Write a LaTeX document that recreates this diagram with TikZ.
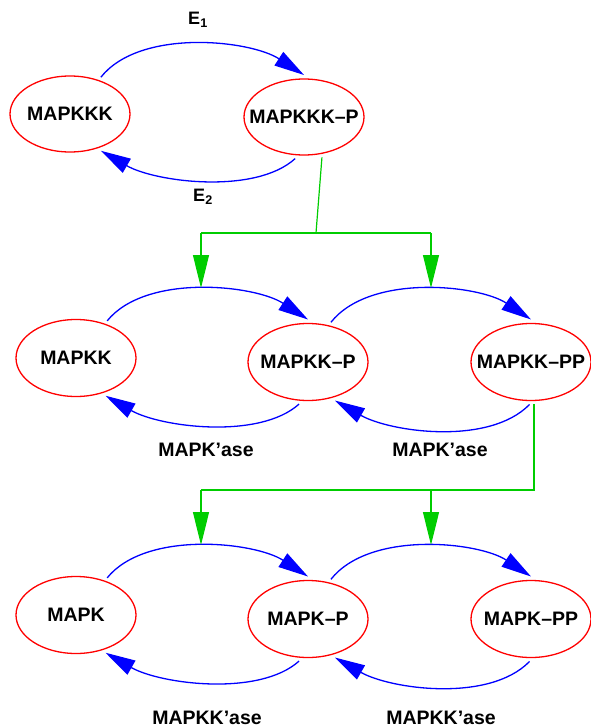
\documentclass[tikz,border=0pt]{standalone}
\usepackage{fontspec}
\setmainfont{Liberation Sans}
\usetikzlibrary{arrows.meta,shapes.geometric}
\definecolor{actgreen}{RGB}{0,205,0}
\begin{document}
\begin{tikzpicture}[x=1pt,y=-1pt,
  state/.style={ellipse,draw=red,line width=1.3pt,minimum width=120pt,minimum height=77pt,
    inner sep=0pt,outer sep=4pt,font=\fontsize{19.5}{20}\selectfont\bfseries},
  react/.style={draw=blue,line width=1.3pt,-{Triangle[length=30pt,width=16pt]}},
  act/.style={draw=actgreen,line width=1.2pt},
  actarrow/.style={act,-{Triangle[length=33pt,width=16pt]}},
  lbl/.style={font=\fontsize{19.5}{20}\selectfont\bfseries,inner sep=0pt}]
\useasboundingbox (0,0) rectangle (590,728);

% top row
\node[state,minimum height=76pt] (a) at (70,114) {\makebox[0pt]{MAPKKK}};
\node[state,minimum height=76pt] (b) at (304,117) {\makebox[0pt]{MAPKKK–P}};
\draw[react] (a.50) .. controls (140,28) and (250,40) .. (b.90);
\draw[react] (b.-102) .. controls (255,195) and (155,182) .. (a.-50);
\node[lbl,font=\fontsize{18}{20}\selectfont\bfseries] (e1) at (198,20) {E\textsubscript{1}};
\node[lbl,font=\fontsize{18}{20}\selectfont\bfseries] (e2) at (203,197) {E\textsubscript{2}};

% middle row
\node[state] (c) at (76,358) {\makebox[0pt]{MAPKK}};
\node[state] (d) at (308,362) {\makebox[0pt]{MAPKK–P}};
\node[state] (e) at (531,362) {\makebox[0pt]{MAPKK–PP}};
\draw[react] (c.50) .. controls (146,273) and (255,285) .. (d.90);
\draw[react] (d.60) .. controls (370,273) and (479,285) .. (e.90);
\draw[react] (d.-102) .. controls (259,440) and (160,427) .. (c.-52);
\draw[react] (e.-92) .. controls (489,446) and (390,432) .. (d.-55);
\node[lbl] (k1) at (206,450) {MAPK’ase};
\node[lbl] (k2) at (440,450) {MAPK’ase};

% bottom row
\node[state] (f) at (76,615) {\makebox[0pt]{MAPK}};
\node[state] (g) at (308,619) {\makebox[0pt]{MAPK–P}};
\node[state] (h) at (531,619) {\makebox[0pt]{MAPK–PP}};
\draw[react] (f.50) .. controls (146,530) and (255,542) .. (g.90);
\draw[react] (g.60) .. controls (370,530) and (479,542) .. (h.90);
\draw[react] (g.-102) .. controls (259,697) and (160,684) .. (f.-52);
\draw[react] (h.-92) .. controls (489,703) and (390,689) .. (g.-55);
\node[lbl] (m1) at (207,718) {MAPKK’ase};
\node[lbl] (m2) at (441,718) {MAPKK’ase};

% green activation lines
\coordinate (j1) at (316,233);
\coordinate (l1) at (201,233);
\coordinate (r1) at (431,233);
\coordinate (t1) at (201,288);
\coordinate (u1) at (431,288);
\draw[act] (b.-66) -- (j1);
\draw[act] (l1) -- (r1);
\draw[actarrow] (l1) -- (t1);
\draw[actarrow] (r1) -- (u1);

\coordinate (l2) at (201,490);
\coordinate (r2) at (431,490);
\coordinate (t2) at (201,545);
\coordinate (u2) at (431,545);
\draw[act] (e.-86) |- (l2);
\draw[actarrow] (l2) -- (t2);
\draw[actarrow] (r2) -- (u2);
\end{tikzpicture}
\end{document}
